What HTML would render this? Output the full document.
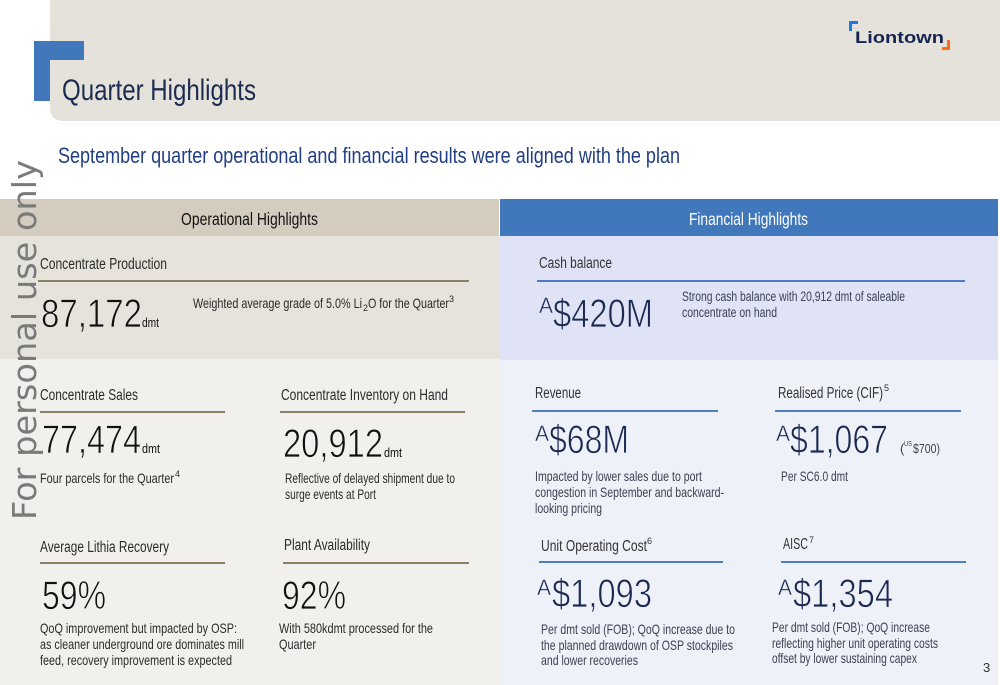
<!DOCTYPE html>
<html><head><meta charset="utf-8"><style>
html,body{margin:0;padding:0;background:#fff;}
svg{display:block;}
text{font-family:"Liberation Sans",sans-serif;}
</style></head><body>
<svg width="1000" height="685" viewBox="0 0 1000 685" xmlns="http://www.w3.org/2000/svg">
<rect width="1000" height="685" fill="#ffffff"/>
<!-- header band -->
<path d="M50 0 H1000 V121 H64 Q50 121 50 107 Z" fill="#e5e1db"/>
<path d="M34 41 H84 V60 H50 V101 H34 Z" fill="#4177bb"/>
<text x="62" y="100" font-size="30" textLength="194" lengthAdjust="spacingAndGlyphs" fill="#1c2b50">Quarter Highlights</text>
<!-- logo -->
<path d="M849 21 H858 V24 H852 V31 H849 Z" fill="#1e7be0"/>
<path d="M947 40 H950 V50 H942 V47 H947 Z" fill="#ff6a13"/>
<text x="855" y="43" font-size="17" font-weight="bold" textLength="89" lengthAdjust="spacingAndGlyphs" fill="#14264f">Liontown</text>
<!-- subtitle -->
<text x="58" y="163" font-size="22" textLength="622" lengthAdjust="spacingAndGlyphs" fill="#213e85">September quarter operational and financial results were aligned with the plan</text>

<!-- panels -->
<rect x="0" y="199" width="499" height="37" fill="#d4ccbf"/>
<rect x="500" y="199" width="498" height="37" fill="#4177bb"/>
<rect x="0" y="236" width="500" height="123" fill="#e6e2dc"/>
<rect x="0" y="359" width="500" height="326" fill="#f2f0ec"/>
<rect x="500" y="236" width="498" height="124" fill="#dfe3f5"/>
<rect x="500" y="360" width="498" height="325" fill="#eff1f9"/>
<text x="181" y="225" font-size="17.5" textLength="137" lengthAdjust="spacingAndGlyphs" fill="#111">Operational Highlights</text>
<text x="689" y="225" font-size="17.5" textLength="119" lengthAdjust="spacingAndGlyphs" fill="#ffffff">Financial Highlights</text>

<!-- operational lines -->
<g stroke="#8c7e66" stroke-width="2">
<line x1="38" y1="281" x2="469" y2="281"/>
<line x1="40" y1="412" x2="225" y2="412"/>
<line x1="280" y1="412" x2="465" y2="412"/>
<line x1="40" y1="563" x2="225" y2="563"/>
<line x1="283" y1="563" x2="469" y2="563"/>
</g>
<!-- financial lines -->
<g stroke="#4a7dc2" stroke-width="2">
<line x1="537" y1="281" x2="965" y2="281"/>
<line x1="532" y1="411" x2="718" y2="411"/>
<line x1="775" y1="411" x2="961" y2="411"/>
<line x1="539" y1="562" x2="723" y2="562"/>
<line x1="781" y1="562" x2="966" y2="562"/>
</g>

<!-- operational text -->
<g fill="#2b2b2b">
<text x="40" y="269" font-size="15.5" textLength="127" lengthAdjust="spacingAndGlyphs">Concentrate Production</text>
<text x="193" y="308" font-size="14" textLength="169" lengthAdjust="spacingAndGlyphs">Weighted average grade of 5.0% Li</text>
<text x="363" y="311" font-size="9">2</text>
<text x="368" y="308" font-size="14" textLength="81" lengthAdjust="spacingAndGlyphs">O for the Quarter</text>
<text x="449" y="302" font-size="9">3</text>
<text x="40" y="400" font-size="15.5" textLength="98" lengthAdjust="spacingAndGlyphs">Concentrate Sales</text>
<text x="40" y="483" font-size="14" textLength="134" lengthAdjust="spacingAndGlyphs">Four parcels for the Quarter</text>
<text x="175" y="477" font-size="9">4</text>
<text x="281" y="400" font-size="15.5" textLength="167" lengthAdjust="spacingAndGlyphs">Concentrate Inventory on Hand</text>
<text x="285" y="483" font-size="14" textLength="170" lengthAdjust="spacingAndGlyphs">Reflective of delayed shipment due to</text>
<text x="285" y="499" font-size="14" textLength="91" lengthAdjust="spacingAndGlyphs">surge events at Port</text>
<text x="40" y="552" font-size="15.5" textLength="129" lengthAdjust="spacingAndGlyphs">Average Lithia Recovery</text>
<text x="40" y="633" font-size="14" textLength="197" lengthAdjust="spacingAndGlyphs">QoQ improvement but impacted by OSP:</text>
<text x="40" y="649" font-size="14" textLength="204" lengthAdjust="spacingAndGlyphs">as cleaner underground ore dominates mill</text>
<text x="40" y="665" font-size="14" textLength="192" lengthAdjust="spacingAndGlyphs">feed, recovery improvement is expected</text>
<text x="284" y="550" font-size="15.5" textLength="86" lengthAdjust="spacingAndGlyphs">Plant Availability</text>
<text x="279" y="633" font-size="14" textLength="154" lengthAdjust="spacingAndGlyphs">With 580kdmt processed for the</text>
<text x="279" y="649" font-size="14" textLength="37" lengthAdjust="spacingAndGlyphs">Quarter</text>
</g>
<g fill="#111" stroke-width="0.8">
<text x="41" y="327" font-size="40" textLength="101" lengthAdjust="spacingAndGlyphs" stroke="#e6e2dc">87,172</text>
<text x="142" y="327" font-size="12.5" textLength="17" lengthAdjust="spacingAndGlyphs">dmt</text>
<text x="42" y="453" font-size="40" textLength="99" lengthAdjust="spacingAndGlyphs" stroke="#f2f0ec">77,474</text>
<text x="142" y="453" font-size="12.5" textLength="18" lengthAdjust="spacingAndGlyphs">dmt</text>
<text x="283" y="457" font-size="40" textLength="100" lengthAdjust="spacingAndGlyphs" stroke="#f2f0ec">20,912</text>
<text x="384" y="457" font-size="12.5" textLength="18" lengthAdjust="spacingAndGlyphs">dmt</text>
<text x="42" y="609" font-size="40" textLength="64" lengthAdjust="spacingAndGlyphs" stroke="#f2f0ec">59%</text>
<text x="282" y="609" font-size="40" textLength="64" lengthAdjust="spacingAndGlyphs" stroke="#f2f0ec">92%</text>
</g>

<!-- financial text -->
<g fill="#333333">
<text x="539" y="268" font-size="15.5" textLength="73" lengthAdjust="spacingAndGlyphs">Cash balance</text>
<text x="535" y="398" font-size="15.5" textLength="46" lengthAdjust="spacingAndGlyphs">Revenue</text>
<text x="778" y="398" font-size="15.5" textLength="105" lengthAdjust="spacingAndGlyphs">Realised Price (CIF)</text>
<text x="884" y="391" font-size="9">5</text>
<text x="541" y="551" font-size="15.5" textLength="106" lengthAdjust="spacingAndGlyphs">Unit Operating Cost</text>
<text x="647" y="544" font-size="9">6</text>
<text x="783" y="549" font-size="15.5" textLength="25" lengthAdjust="spacingAndGlyphs">AISC</text>
<text x="809" y="543" font-size="9">7</text>
<text x="983" y="672" font-size="13">3</text>
</g>
<g fill="#3b4252">
<text x="682" y="301" font-size="13.5" textLength="223" lengthAdjust="spacingAndGlyphs">Strong cash balance with 20,912 dmt of saleable</text>
<text x="682" y="317" font-size="13.5" textLength="95" lengthAdjust="spacingAndGlyphs">concentrate on hand</text>
<text x="535" y="481" font-size="14" textLength="167" lengthAdjust="spacingAndGlyphs">Impacted by lower sales due to port</text>
<text x="535" y="497" font-size="14" textLength="189" lengthAdjust="spacingAndGlyphs">congestion in September and backward-</text>
<text x="535" y="513" font-size="14" textLength="67" lengthAdjust="spacingAndGlyphs">looking pricing</text>
<text x="781" y="481" font-size="14" textLength="67" lengthAdjust="spacingAndGlyphs">Per SC6.0 dmt</text>
<text x="900" y="453" font-size="13">(</text>
<text x="904" y="446" font-size="7" textLength="8" lengthAdjust="spacingAndGlyphs">US</text>
<text x="913" y="453" font-size="13" textLength="27" lengthAdjust="spacingAndGlyphs">$700)</text>
<text x="541" y="634" font-size="14" textLength="194" lengthAdjust="spacingAndGlyphs">Per dmt sold (FOB); QoQ increase due to</text>
<text x="541" y="650" font-size="14" textLength="192" lengthAdjust="spacingAndGlyphs">the planned drawdown of OSP stockpiles</text>
<text x="541" y="665" font-size="14" textLength="97" lengthAdjust="spacingAndGlyphs">and lower recoveries</text>
<text x="772" y="632" font-size="14" textLength="158" lengthAdjust="spacingAndGlyphs">Per dmt sold (FOB); QoQ increase</text>
<text x="772" y="648" font-size="14" textLength="166" lengthAdjust="spacingAndGlyphs">reflecting higher unit operating costs</text>
<text x="772" y="663" font-size="14" textLength="145" lengthAdjust="spacingAndGlyphs">offset by lower sustaining capex</text>
</g>
<g fill="#1c2a52" stroke-width="0.8">
<text x="539" y="313" font-size="22" textLength="14" lengthAdjust="spacingAndGlyphs" stroke="#dfe3f5" stroke-width="0.4">A</text>
<text x="553" y="327" font-size="40" textLength="100" lengthAdjust="spacingAndGlyphs" stroke="#dfe3f5">$420M</text>
<text x="535" y="441" font-size="22" textLength="14" lengthAdjust="spacingAndGlyphs" stroke="#eff1f9" stroke-width="0.4">A</text>
<text x="549" y="453" font-size="40" textLength="80" lengthAdjust="spacingAndGlyphs" stroke="#eff1f9">$68M</text>
<text x="776" y="441" font-size="22" textLength="14" lengthAdjust="spacingAndGlyphs" stroke="#eff1f9" stroke-width="0.4">A</text>
<text x="790" y="453" font-size="40" textLength="98" lengthAdjust="spacingAndGlyphs" stroke="#eff1f9">$1,067</text>
<text x="537" y="595" font-size="22" textLength="14" lengthAdjust="spacingAndGlyphs" stroke="#eff1f9" stroke-width="0.4">A</text>
<text x="552" y="607" font-size="40" textLength="100" lengthAdjust="spacingAndGlyphs" stroke="#eff1f9">$1,093</text>
<text x="778" y="595" font-size="22" textLength="14" lengthAdjust="spacingAndGlyphs" stroke="#eff1f9" stroke-width="0.4">A</text>
<text x="793" y="607" font-size="40" textLength="100" lengthAdjust="spacingAndGlyphs" stroke="#eff1f9">$1,354</text>
</g>

<!-- watermark -->
<text transform="translate(36,520) rotate(-90)" font-size="33" textLength="360" lengthAdjust="spacingAndGlyphs" fill="#7a7a7a" style="font-family:'DejaVu Sans',sans-serif">For personal use only</text>
</svg>
</body></html>
